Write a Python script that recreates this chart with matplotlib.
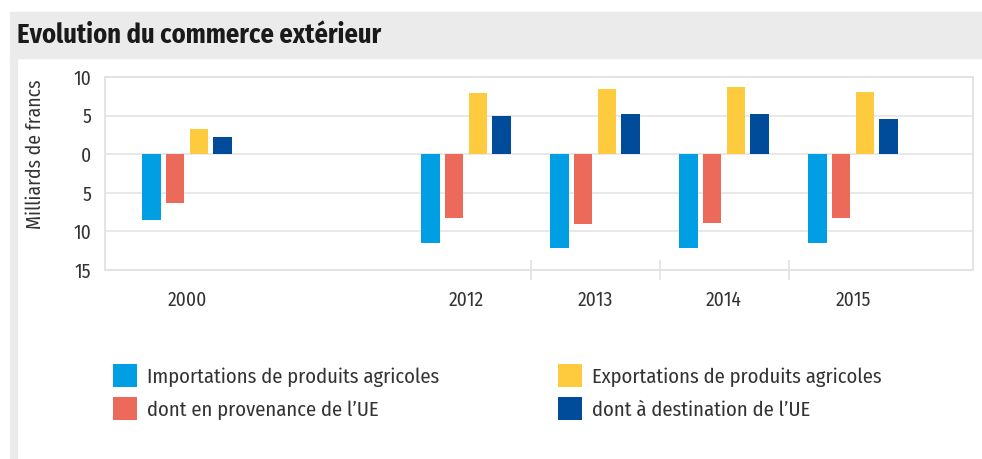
import matplotlib.pyplot as plt
from matplotlib.patches import Rectangle, Patch

# data (milliards de francs), imports negative
years = ["2000", "2012", "2013", "2014", "2015"]
imports_total = [-8.5, -11.5, -12.1, -12.2, -11.5]
imports_ue = [-6.3, -8.3, -9.0, -8.9, -8.3]
exports_total = [3.3, 7.9, 8.4, 8.7, 8.1]
exports_ue = [2.2, 5.0, 5.2, 5.2, 4.5]

series = [imports_total, imports_ue, exports_total, exports_ue]
labels = ["Importations de produits agricoles", "dont en provenance de l\u2019UE",
          "Exportations de produits agricoles", "dont \u00e0 destination de l\u2019UE"]
colors = ["#009fe3", "#ec6a5a", "#fecb3e", "#004c9b"]

# group centres (2000 stands apart from the rest)
xpos = [0, 2.163, 3.163, 4.163, 5.163]

fam = ["Fira Sans Condensed", "IBM Plex Sans Condensed", "DejaVu Sans"]
plt.rcParams['font.family'] = fam
W, H = 982, 459
fig = plt.figure(figsize=(W / 100, H / 100), dpi=100, facecolor="white")

# gray header band and left strip
fig.add_artist(Rectangle((10 / W, 1 - 58 / H), 1 - 10 / W, 46 / H,
                         transform=fig.transFigure, color="#ebebeb", zorder=0))
fig.add_artist(Rectangle((10 / W, 0), 7 / W, 1 - 58 / H,
                         transform=fig.transFigure, color="#ebebeb", zorder=0))
fig.text(17 / W, 1 - 35 / H, "Evolution du commerce ext\u00e9rieur",
         fontsize=19, fontweight="bold", color="#1a1a1a", va="center", ha="left")

ax = fig.add_axes([105 / W, 1 - 270 / H, (973 - 105) / W, (270 - 77) / H])
width = 0.145
pitch = 0.185
for i, (vals, col) in enumerate(zip(series, colors)):
    xs = [x + (i - 1.5) * pitch for x in xpos]
    ax.bar(xs, vals, width=width, color=col, zorder=3)

ax.set_xlim(-0.636, 6.093)
ax.set_ylim(-15, 10)
yt = [10, 5, 0, -5, -10, -15]
ax.set_yticks(yt)
ax.set_yticklabels([str(abs(v)) for v in yt])
ax.set_xticks(xpos)
ax.set_xticklabels(years)
ax.set_xticks([(xpos[k] + xpos[k + 1]) / 2 for k in range(1, 4)], minor=True)
ax.tick_params(axis="both", which="major", length=0, labelsize=14, colors="#333333")
ax.tick_params(axis="y", pad=10)
ax.tick_params(axis="x", pad=15)
ax.tick_params(axis="x", which="minor", length=14, direction="inout", color="#e2e2e2", width=1.2)
ax.grid(axis="y", color="#e6e6e6", linewidth=1.3, zorder=0)
for s in ax.spines.values():
    s.set_color("#e2e2e2")
    s.set_linewidth(1.3)

fig.text(35 / W, 1 - 154 / H, "Milliards de francs", rotation=90,
         fontsize=14.2, color="#333333", ha="center", va="center")

# legends: two columns
h = [Patch(facecolor=c, edgecolor="none") for c in colors]
for k, xl in enumerate([113, 558]):
    fig.legend(h[2 * k:2 * k + 2], labels[2 * k:2 * k + 2], loc="upper left",
               bbox_to_anchor=(xl / W, 1 - 364 / H), frameon=False,
               fontsize=14.8, handlelength=1.16, handleheight=1.37,
               handletextpad=0.5, labelspacing=0.47, borderpad=0, borderaxespad=0,
               labelcolor="#333333")

plt.savefig("out.png", dpi=100, facecolor="white")
